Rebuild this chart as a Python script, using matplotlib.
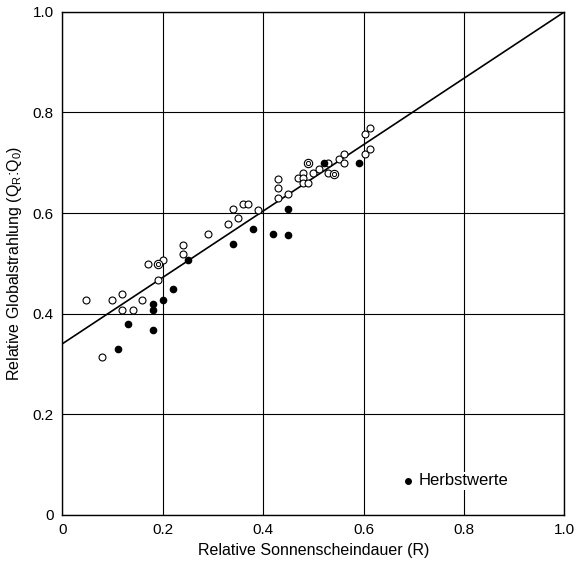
import numpy as np
import matplotlib
matplotlib.use("Agg")
import matplotlib.pyplot as plt

plt.rcParams['font.family'] = ['Liberation Sans', 'DejaVu Sans']

# offene Kreise
open_x = [0.048, 0.08, 0.10, 0.12, 0.12, 0.14, 0.159, 0.17, 0.20, 0.19, 0.24, 0.24,
          0.29, 0.33, 0.35, 0.34, 0.359, 0.37, 0.389,
          0.43, 0.43, 0.43, 0.45, 0.469, 0.48, 0.48, 0.48, 0.49, 0.50, 0.511,
          0.53, 0.53, 0.552, 0.562, 0.562, 0.602, 0.613, 0.602, 0.613]
open_y = [0.427, 0.314, 0.427, 0.44, 0.408, 0.408, 0.428, 0.498, 0.507, 0.467, 0.536, 0.518,
          0.559, 0.578, 0.59, 0.608, 0.618, 0.618, 0.607,
          0.668, 0.65, 0.629, 0.638, 0.669, 0.679, 0.669, 0.659, 0.66, 0.679, 0.688,
          0.699, 0.679, 0.708, 0.718, 0.699, 0.757, 0.769, 0.718, 0.728]
# doppelte Kreise
dbl_x = [0.19, 0.49, 0.541]
dbl_y = [0.498, 0.70, 0.678]
# Herbstwerte
herbst_x = [0.111, 0.131, 0.18, 0.18, 0.18, 0.20, 0.22, 0.25, 0.341, 0.38,
            0.42, 0.45, 0.45, 0.521, 0.59]
herbst_y = [0.329, 0.38, 0.419, 0.408, 0.368, 0.428, 0.449, 0.507, 0.539, 0.569,
            0.559, 0.608, 0.557, 0.699, 0.699]
# Regressionsgerade
line_x = [0.0, 1.0]
line_y = [0.34, 1.0]

ticks = [0, 0.2, 0.4, 0.6, 0.8, 1.0]
tick_labels = ['0', '0.2', '0.4', '0.6', '0.8', '1.0']

fig = plt.figure(figsize=(5.76, 5.64), dpi=100)
ax = fig.add_axes([0.108, 0.087, 0.872, 0.892])

ax.plot(line_x, line_y, color='black', linewidth=1.2, zorder=2)
ax.plot(open_x, open_y, 'o', mfc='white', mec='black', ms=5, mew=0.8, zorder=3)
ax.plot(dbl_x, dbl_y, 'o', mfc='white', mec='black', ms=6, mew=0.8, zorder=3)
ax.plot(dbl_x, dbl_y, 'o', mfc='white', mec='black', ms=3, mew=0.7, zorder=4)
ax.plot(herbst_x, herbst_y, 'o', mfc='black', mec='black', ms=4.5, zorder=3)

# Legende
ax.plot([0.689], [0.068], 'o', color='black', ms=4)
ax.text(0.71, 0.068, 'Herbstwerte', fontsize=12, va='center', ha='left', zorder=5,
        bbox=dict(facecolor='white', edgecolor='none', pad=1))

ax.set_xlim(0, 1)
ax.set_ylim(0, 1)
ax.set_xticks(ticks)
ax.set_xticklabels(tick_labels)
ax.set_yticks(ticks)
ax.set_yticklabels(tick_labels)
ax.tick_params(length=0, labelsize=11, pad=6)
ax.grid(True, color='black', linewidth=0.8)
for s in ax.spines.values():
    s.set_linewidth(1.0)

ax.set_xlabel('Relative Sonnenscheindauer (R)', fontsize=11.5, labelpad=4)
ax.set_ylabel('Relative Globalstrahlung (Q$_\\mathregular{R}$:Q$_\\mathregular{0}$)', fontsize=11.5, labelpad=6)

fig.savefig('out.png', dpi=100)
